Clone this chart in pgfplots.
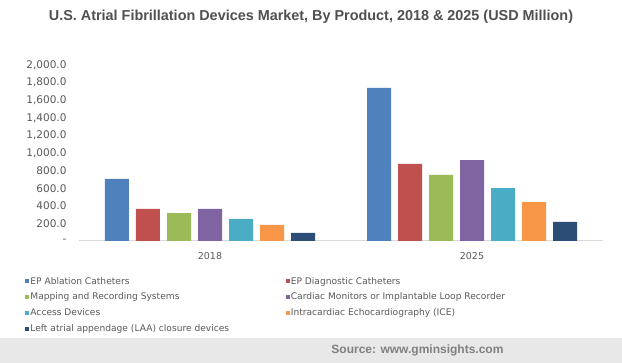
\documentclass[border=0pt]{standalone}
\usepackage{pgfplots}
\pgfplotsset{compat=1.18}
\usepackage{fontspec}
\setmainfont{DejaVu Sans}
\newfontfamily\titlefont{Liberation Sans}
\definecolor{cA}{HTML}{4F81BD}
\definecolor{cB}{HTML}{C0504D}
\definecolor{cC}{HTML}{9BBB59}
\definecolor{cD}{HTML}{8064A2}
\definecolor{cE}{HTML}{4BACC6}
\definecolor{cF}{HTML}{F79646}
\definecolor{cG}{HTML}{2C4D75}
\definecolor{txt}{HTML}{595959}
\definecolor{axl}{HTML}{D9D9D9}
\definecolor{band}{HTML}{E8E8E8}
\begin{document}
\begin{tikzpicture}[x=1pt,y=1pt]
\useasboundingbox (0,0) rectangle (622,363);
\fill[white] (0,0) rectangle (622,363);
\fill[band] (0,0) rectangle (622,25);
\node[anchor=east,text=gray,font=\titlefont\bfseries\fontsize{12}{14}\selectfont] at (507,13) {Source: www.gminsights.com};
\node[text=txt!90!black,font=\titlefont\bfseries\fontsize{14.4}{16}\selectfont] at (311,346) {U.S. Atrial Fibrillation Devices Market, By Product, 2018 \& 2025 (USD Million)};
\begin{axis}[
  at={(79pt,122pt)}, anchor=south west,
  scale only axis, width=524pt, height=176pt,
  xmin=-0.5, xmax=1.5, ymin=0, ymax=2000,
  ybar=7pt, bar width=24pt,
  axis line style={draw=none},
  xtick={0,1}, xticklabels={2018,2025},
  ytick={0,200,...,2000},
  yticklabels={-,200.0,400.0,600.0,800.0,{1,000.0},{1,200.0},{1,400.0},{1,600.0},{1,800.0},{2,000.0}},
  major tick length=0pt,
  tick label style={text=txt,font=\fontsize{10.5}{12}\selectfont},
  yticklabel style={xshift=-9pt},
  xticklabel style={yshift=-8pt,font=\fontsize{9.5}{11}\selectfont},
  /pgf/number format/assume math mode=true,
  legend columns=2,
  legend cell align=left,
  legend style={at={(-0.103,-0.198)},anchor=north west,draw=none,fill=none,inner sep=0pt,
    font=\fontsize{9.1}{11}\selectfont,text=txt,
    nodes={inner sep=1.2pt},
    /tikz/every odd column/.append style={column sep=0pt},
    row sep=5pt},
  legend image code/.code={\fill[#1,draw=none] (0pt,-2pt) rectangle (4pt,2pt);},
  clip=false,
]
\draw[axl,line width=1pt] (axis cs:-0.5,0) -- (axis cs:1.5,0);
\addplot[fill=cA,draw=none] coordinates {(0,705) (1,1739)};
\addplot[fill=cB,draw=none] coordinates {(0,364) (1,875)};
\addplot[fill=cC,draw=none] coordinates {(0,318) (1,750)};
\addplot[fill=cD,draw=none] coordinates {(0,364) (1,920)};
\addplot[fill=cE,draw=none] coordinates {(0,250) (1,602)};
\addplot[fill=cF,draw=none] coordinates {(0,182) (1,443)};
\addplot[fill=cG,draw=none] coordinates {(0,91) (1,216)};
\legend{\makebox[254pt][l]{EP Ablation Catheters},EP Diagnostic Catheters,\makebox[254pt][l]{Mapping and Recording Systems},Cardiac Monitors or Implantable Loop Recorder,\makebox[254pt][l]{Access Devices},Intracardiac Echocardiography (ICE),\makebox[254pt][l]{Left atrial appendage (LAA) closure devices}}
\end{axis}
\end{tikzpicture}
\end{document}
